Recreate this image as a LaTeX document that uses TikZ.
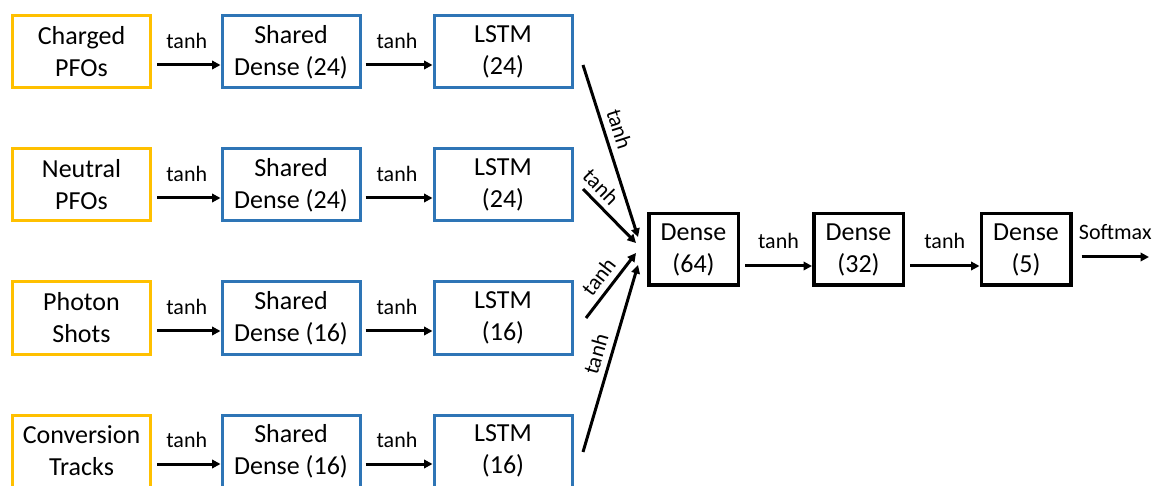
\documentclass[tikz,border=0pt]{standalone}
\usepackage{fontspec}
\setmainfont{Carlito}
\usetikzlibrary{arrows.meta}
\definecolor{inputgold}{HTML}{FFC000}
\definecolor{layerblue}{HTML}{2E75B6}
\begin{document}
\begin{tikzpicture}[x=1pt,y=-1pt,
  box/.style={draw, line width=3pt, minimum width=138pt, minimum height=72pt,
    align=center, inner sep=0pt, font=\fontsize{26}{32}\selectfont},
  inbox/.style={box, draw=inputgold},
  layerbox/.style={box, draw=layerblue},
  densebox/.style={box, draw=black, line width=3.5pt, minimum width=89.5pt, minimum height=71.5pt},
  arr/.style={line width=3pt, -{Triangle[length=8.5pt,width=8.5pt]}},
  lbl/.style={font=\fontsize{22}{26}\selectfont, inner sep=0pt},
]
\useasboundingbox (0,0) rectangle (1162,486);

% four input branches: input -> shared dense -> LSTM
\foreach \i/\y/\a/\b/\n in {1/52/Charged/PFOs/24, 2/185/Neutral/PFOs/24,
                            3/318/Photon/Shots/16, 4/451/Conversion/Tracks/16} {
  \node[inbox]    (in\i) at (81.5,\y) {\a\\\b};
  \node[layerbox] (sd\i) at (291,\y)  {Shared\\Dense (\n)};
  \node[layerbox] (ls\i) at (503,\y)  {LSTM\\(\n)};
  \draw[arr] ([xshift=5pt,yshift=-13pt]in\i.east) --
    node[lbl, above=15pt, xshift=-2pt] {tanh} ([yshift=-13pt]sd\i.west);
  \draw[arr] ([xshift=4pt,yshift=-13pt]sd\i.east) --
    node[lbl, above=15pt, xshift=-2pt] {tanh} ([yshift=-13pt]ls\i.west);
}

% merged dense head
\node[densebox] (d64) at (693.5,249.5) {Dense\\(64)};
\node[densebox] (d32) at (858.5,249.5) {Dense\\(32)};
\node[densebox] (d5)  at (1026,249.5)  {Dense\\(5)};

% LSTM outputs converging on the first dense layer
\coordinate (s1) at (583,65);  \coordinate (e1) at (638,237);
\coordinate (s2) at (583,189); \coordinate (e2) at (636,243);
\coordinate (s3) at (586,318); \coordinate (e3) at (636,253);
\coordinate (s4) at (583,452); \coordinate (e4) at (638,265);
\draw[arr] (s1) -- node[lbl, sloped, pos=0.40, above=6pt] {tanh} (e1);
\draw[arr] (s2) -- node[lbl, sloped, pos=0.15, above=5pt] {tanh} (e2);
\draw[arr] (s3) -- node[lbl, sloped, pos=0.49, above=6pt] {tanh} (e3);
\draw[arr] (s4) -- node[lbl, sloped, pos=0.50, above=6pt] {tanh} (e4);

\draw[arr] ([xshift=5pt,yshift=-16.5pt]d64.east) --
  node[lbl, above=16pt] {tanh} ([yshift=-16.5pt]d32.west);
\draw[arr] ([xshift=5pt,yshift=-16.5pt]d32.east) --
  node[lbl, above=16pt] {tanh} ([yshift=-16.5pt]d5.west);

\coordinate (out) at (1149,257);
\draw[arr] ([xshift=9pt,yshift=-7.5pt]d5.east) --
  node[lbl, above=16pt] {Softmax} (out);
\end{tikzpicture}
\end{document}
